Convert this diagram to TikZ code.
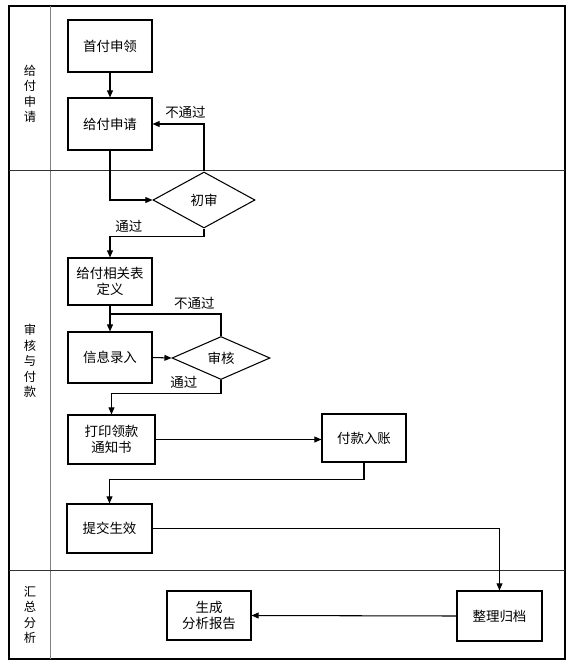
\documentclass[tikz,border=0pt]{standalone}
\usepackage{fontspec}
\newfontfamily\cjk{Noto Sans CJK SC}
\usetikzlibrary{positioning, shapes.geometric, arrows.meta}

\begin{document}
\begin{tikzpicture}[
        x=0.03cm, y=-0.03cm,
        font=\cjk\fontsize{11.5}{14.2}\selectfont,
        box/.style={rectangle, draw, fill=white, align=center,
          minimum width=2.52cm, minimum height=1.5cm, inner sep=2pt,
          line width=0.9pt},
        check/.style={diamond, draw, fill=white, inner sep=0pt,
          line width=0.9pt},
        lane/.style={align=center, font=\cjk\fontsize{10.5}{13.2}\selectfont},
        line/.style={draw, -{Triangle[length=6pt, width=5pt]}, line width=0.9pt},
        plain/.style={draw, line width=0.9pt}
      ]
      \useasboundingbox (0,0) rectangle (573,672);

      % Swimlane frame
      \draw[line width=1.2pt] (9,6) rectangle (565,659);
      \draw[gray, line width=0.8pt] (50,6) -- (50,659);
      \draw[black!80, line width=0.8pt] (9,170) -- (565,170);
      \draw[black!80, line width=0.8pt] (9,570) -- (565,570);

      % Lane titles
      \node [lane] (l_apply) at (30,94) {给\\付\\申\\请};
      \node [lane] (l_check) at (30,361) {审\\核\\与\\付\\款};
      \node [lane] (l_sum) at (30,615) {汇\\总\\分\\析};

      % Apply lane nodes
      \node [box, minimum height=1.56cm] (a_first) at (110,46) {首付申领};
      \node [box, minimum height=1.56cm] (a_apply) at (110,124) {给付申请};

      % Check and pay lane nodes
      \node [check, minimum width=3.06cm, minimum height=1.68cm] (d_first) at (204,200) {初审};
      \node [box, minimum height=1.41cm] (b_define) at (110,281.5) {给付相关表\\定义};
      \node [box, minimum height=1.53cm] (b_input) at (110,357.5) {信息录入};
      \node [check, minimum width=2.94cm, minimum height=1.29cm] (d_check) at (221,358) {审核};
      \node [box, minimum width=2.61cm, minimum height=1.47cm] (b_print) at (111.5,439.5) {打印领款\\通知书};
      \node [box, minimum height=1.44cm] (b_pay) at (364,438) {付款入账};
      \node [box, minimum width=2.55cm, minimum height=1.47cm] (b_submit) at (109.5,528.5) {提交生效};

      % Summary lane nodes
      \node [box, minimum width=2.55cm] (c_file) at (499.5,616) {整理归档};
      \node [box, minimum height=1.47cm] (c_report) at (209,615.5) {生成\\分析报告};

      \coordinate (j_back) at (110,314);

      % Paths in apply lane
      \path [line] (a_first) -- (a_apply);
      \path [line] (a_apply.south) |- (d_first.west);
      \path [line] (d_first.north) |- node[pos=0.68, above, yshift=1pt] {不通过} (a_apply.east);
      \path [line] (d_first.south) -- ++(0,8) -| node[pos=0.4, above] {通过} (b_define.north);

      % Paths in check lane
      \path [line] (b_define) -- (b_input);
      \path [plain] (d_check.north) |- node[pos=0.62, above] {不通过} (j_back);
      \path [line] (b_input.east) -- (d_check.west);
      \path [line] (d_check.south) -- ++(0,13) -| node[pos=0.17, above] {通过} (b_print.north);
      \path [line] (b_print.east) -- (b_print.east -| b_pay.west);
      \path [line] (b_pay.south) -- ++(0,17) -| (b_submit.north);
      \path [line] (b_submit.east) -| (c_file.north);

      % Path in summary lane
      \path [line] (c_file.west) -- (c_report.east);

    \end{tikzpicture}
\end{document}
